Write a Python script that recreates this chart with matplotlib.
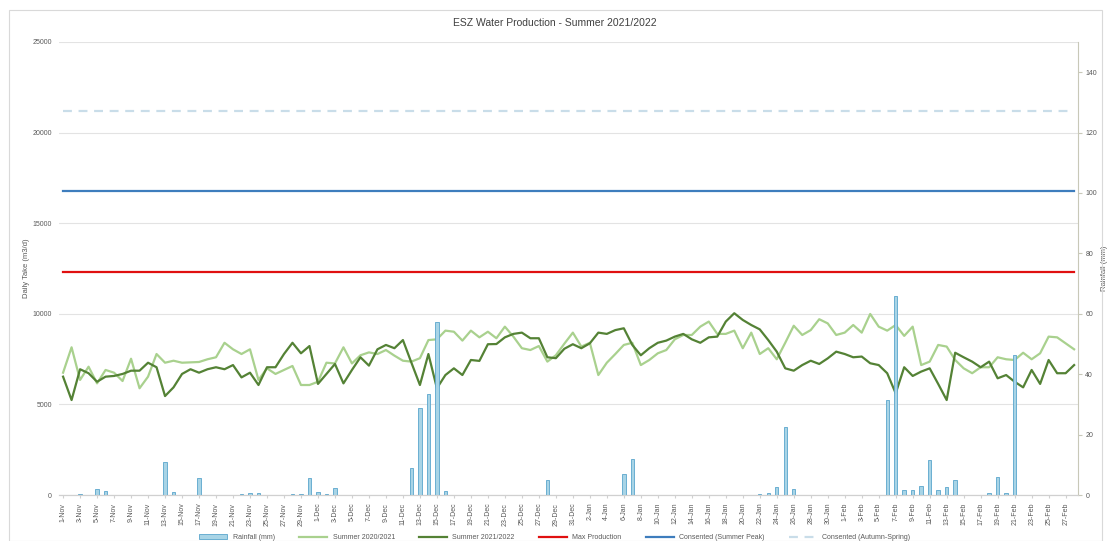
import numpy as np
import pandas as pd
import matplotlib
matplotlib.use("Agg")
import matplotlib.pyplot as plt
from matplotlib.patches import Rectangle

plt.rcParams['font.family'] = ['Liberation Sans Narrow', 'Liberation Sans', 'DejaVu Sans']

# dates 1-Nov .. 28-Feb
dates = pd.date_range('2021-11-01', '2022-02-28')
labels = [f"{d.day}-{d.strftime('%b')}" for d in dates]

summer_2021 = [6750, 8150, 6350, 7080, 6160, 6900, 6750, 6290, 7520, 5890,
               6530, 7780, 7300, 7410, 7300, 7320, 7340, 7490, 7600, 8400,
               8040, 7780, 8040, 6350, 6990, 6680, 6900, 7120, 6070, 6070,
               6250, 7300, 7260, 8150, 7260, 7710, 7870, 7780, 8000, 7690,
               7410, 7360, 7550, 8550, 8590, 9070, 9010, 8520, 9070, 8700,
               9010, 8650, 9290, 8740, 8100, 8000, 8220, 7360, 7710, 8350,
               8960, 8190, 8400, 6620, 7300, 7780, 8280, 8400, 7170, 7450,
               7820, 8000, 8590, 8830, 8830, 9290, 9570, 8890, 8890, 9070,
               8100, 8960, 7780, 8100, 7490, 8400, 9340, 8830, 9100, 9700,
               9470, 8830, 8960, 9380, 8960, 9990, 9290, 9070, 9380, 8780,
               9290, 7170, 7360, 8280, 8190, 7450, 6990, 6720, 7050, 7050,
               7600, 7490, 7450, 7850, 7490, 7820, 8740, 8700, 8370, 8040]

summer_2022 = [6530, 5240, 6940, 6720, 6250, 6530, 6570, 6680, 6860, 6860,
               7300, 7050, 5460, 5940, 6680, 6940, 6750, 6940, 7050, 6940,
               7170, 6490, 6750, 6070, 7050, 7050, 7780, 8400, 7820, 8220,
               6130, 6680, 7230, 6160, 6900, 7600, 7140, 8040, 8280, 8100,
               8550, 7300, 6070, 7780, 5890, 6620, 6990, 6620, 7450, 7400,
               8320, 8330, 8700, 8890, 8960, 8650, 8650, 7600, 7550, 8070,
               8320, 8100, 8370, 8960, 8890, 9100, 9200, 8280, 7710, 8100,
               8400, 8520, 8740, 8890, 8590, 8400, 8700, 8740, 9570, 10030,
               9660, 9380, 9140, 8550, 7910, 6990, 6860, 7170, 7410, 7230,
               7540, 7910, 7780, 7600, 7640, 7270, 7170, 6720, 5610, 7050,
               6570, 6810, 6990, 6130, 5240, 7850, 7600, 7360, 7050, 7360,
               6440, 6620, 6250, 5940, 6900, 6130, 7450, 6720, 6720, 7170]

rain_days = ['3-Nov', '5-Nov', '6-Nov', '13-Nov', '14-Nov', '17-Nov', '22-Nov',
             '23-Nov', '24-Nov', '28-Nov', '29-Nov', '30-Nov', '1-Dec', '2-Dec',
             '3-Dec', '12-Dec', '13-Dec', '14-Dec', '15-Dec', '16-Dec', '28-Dec',
             '6-Jan', '7-Jan', '22-Jan', '23-Jan', '24-Jan', '25-Jan', '26-Jan',
             '6-Feb', '7-Feb', '8-Feb', '9-Feb', '10-Feb', '11-Feb', '12-Feb',
             '13-Feb', '14-Feb', '18-Feb', '19-Feb', '20-Feb', '21-Feb']
rain_mm = [0.4, 1.9, 1.4, 10.9, 1.0, 5.6, 0.4,
           0.6, 0.6, 0.3, 0.5, 5.5, 1.0, 0.3,
           2.4, 8.9, 28.8, 33.4, 57.3, 1.4, 5.0,
           7.0, 12.0, 0.2, 0.6, 2.5, 22.5, 2.0,
           31.5, 66.0, 1.5, 1.5, 3.0, 11.5, 1.5,
           2.5, 5.0, 0.7, 5.8, 0.8, 46.5]

max_production = 12300
consented_peak = 16800
consented_autumn = 21200

rain = np.zeros(len(labels))
for d, v in zip(rain_days, rain_mm):
    rain[labels.index(d)] = v

x = np.arange(len(labels))
grey = '#595959'

fig = plt.figure(figsize=(11.1, 5.41), dpi=100)
fig.patches.append(Rectangle((0.008, 0.0), 0.985, 0.982, transform=fig.transFigure,
                             fill=False, edgecolor='#d9d9d9', linewidth=0.8))
ax = fig.add_axes([0.053, 0.085, 0.9185, 0.8375])
ax2 = ax.twinx()

l1, = ax.plot(x, summer_2021, color='#a9d18e', linewidth=1.6, label='Summer 2020/2021')
l2, = ax.plot(x, summer_2022, color='#548235', linewidth=1.6, label='Summer 2021/2022')
l3, = ax.plot(x, [max_production] * len(x), color='#e01010', linewidth=1.6, label='Max Production')
l4, = ax.plot(x, [consented_peak] * len(x), color='#3e7dbd', linewidth=1.6, label='Consented (Summer Peak)')
l5, = ax.plot(x, [consented_autumn] * len(x), color='#c9dde9', linewidth=1.6,
              dashes=(4, 3), label='Consented (Autumn-Spring)')

b = ax2.bar(x, rain, width=0.4, color='#a8d4e6', edgecolor='#5aa5cc', linewidth=0.6,
            label='Rainfall (mm)')

ax.set_xlim(-0.5, len(x) - 0.5)
ax.set_ylim(0, 25000)
ax.set_yticks(np.arange(0, 25001, 5000))
ax2.set_ylim(0, 150)
ax2.set_yticks(np.arange(0, 141, 20))

ax.grid(axis='y', color='#e3e3e3', linewidth=0.8)
ax.set_axisbelow(True)
ax.set_xticks(x[::2])
ax.set_xticklabels(labels[::2], rotation=90, fontsize=5, color=grey)
ax.tick_params(axis='y', length=0, labelsize=5, colors=grey, pad=5)
ax.tick_params(axis='x', length=2, color='#d0d0d0')
ax2.tick_params(axis='y', length=3, labelsize=5, colors=grey, pad=2)
ax2.tick_params(axis='y', color='#c8c8b8')

for s in ['top', 'left']:
    ax.spines[s].set_visible(False)
    ax2.spines[s].set_visible(False)
ax.spines['right'].set_visible(False)
ax2.spines['right'].set_color('#c8c8b8')
ax2.spines['bottom'].set_color('#d0d0d0')
ax.spines['bottom'].set_color('#d0d0d0')

ax.set_ylabel('Daily Take (m3/d)', fontsize=5.5, color=grey, labelpad=2)
ax2.set_ylabel('Rainfall (mm)', fontsize=5.5, color=grey, labelpad=3)

fig.text(0.5, 0.952, 'ESZ Water Production - Summer 2021/2022', ha='center',
         fontsize=7.5, color='#404040')

fig.legend([b, l1, l2, l3, l4, l5],
           ['Rainfall (mm)', 'Summer 2020/2021', 'Summer 2021/2022', 'Max Production',
            'Consented (Summer Peak)', 'Consented (Autumn-Spring)'],
           loc='lower center', bbox_to_anchor=(0.5, -0.012), ncol=6, frameon=False,
           fontsize=5, handlelength=4, columnspacing=3.5, labelcolor=grey)

fig.savefig('out.png', dpi=100)
